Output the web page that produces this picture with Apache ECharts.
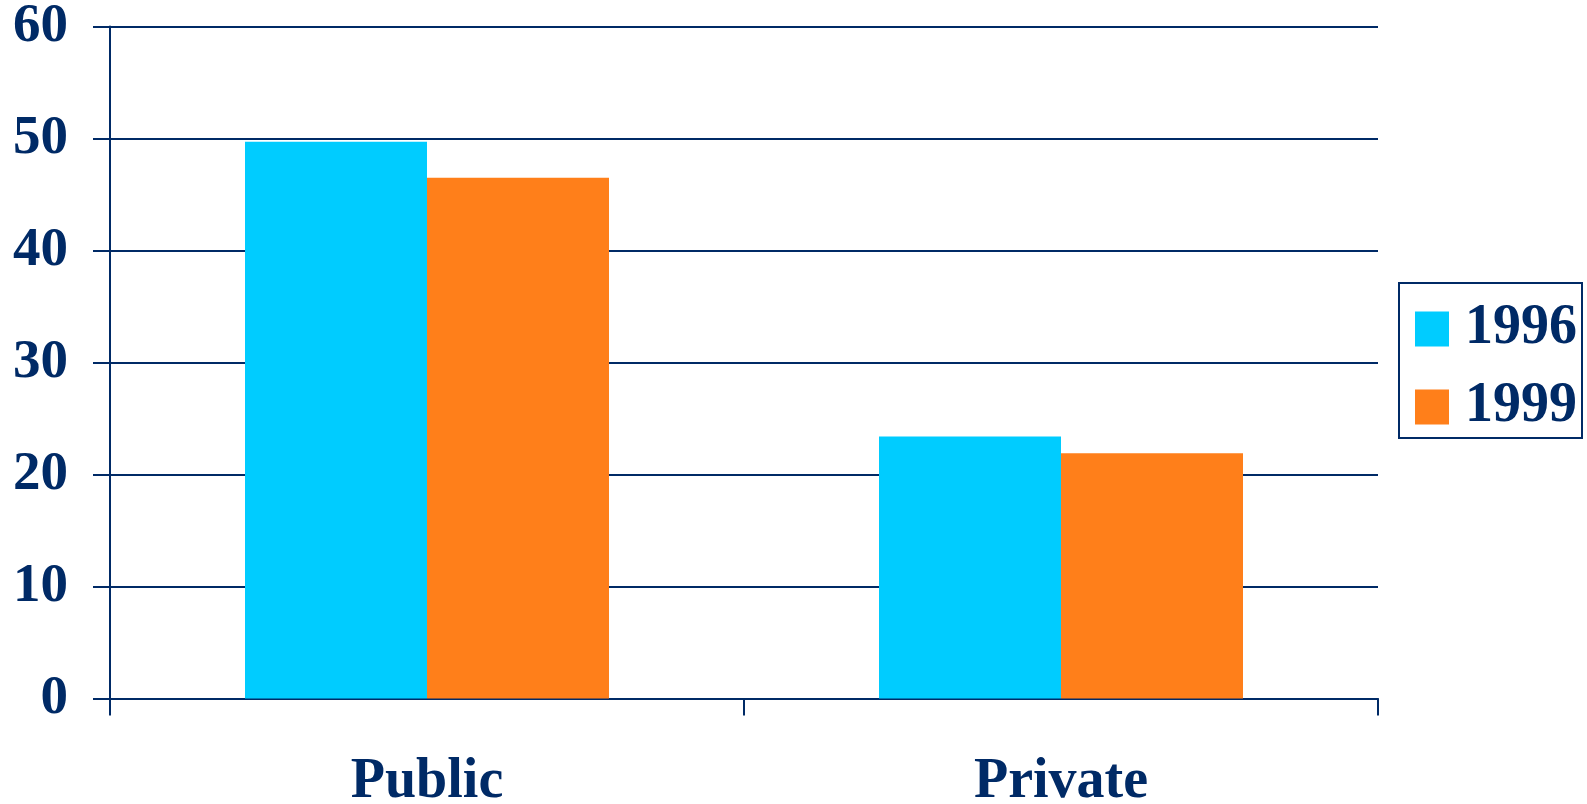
<!DOCTYPE html>
<html><head><meta charset="utf-8">
<script src="https://cdn.jsdelivr.net/npm/echarts@6/dist/echarts.min.js"></script>
<style>html,body{margin:0;padding:0;background:#fff}#c{width:1587px;height:804px}</style>
</head><body><div id="c"></div>
<script>
const categories = ['Public', 'Private'];
const seriesNames = ['1996', '1999'];
const values1996 = [49.7, 23.4];
const values1999 = [46.5, 21.9];
const yTicks = [0, 10, 20, 30, 40, 50, 60];

const navy = '#002a66';
const font = 'Liberation Serif';
const chart = echarts.init(document.getElementById('c'));
chart.setOption({
  animation: false,
  backgroundColor: '#fff',
  grid: { left: 110, top: 26.5, right: 209, bottom: 105.5, containLabel: false, outerBoundsMode: 'none' },
  legend: {
    orient: 'vertical', left: 1399, top: 283,
    data: seriesNames,
    itemWidth: 34, itemHeight: 35, itemGap: 22, itemStyle: {borderWidth: 0},
    padding: [18, 5, 3, 16],
    borderColor: navy, borderWidth: 2,
    textStyle: { color: navy, fontFamily: font, fontWeight: 'bold', fontSize: 56, padding: [0,0,0,11] },
    icon: 'rect'
  },
  xAxis: {
    type: 'category', data: categories,
    axisLine: { lineStyle: { color: navy, width: 2 } },
    axisTick: { show: true, length: 17, lineStyle: { color: navy, width: 2 } },
    axisLabel: { color: navy, fontFamily: font, fontWeight: 'bold', fontSize: 56, margin: 56 }
  },
  yAxis: {
    type: 'value', min: yTicks[0], max: yTicks[yTicks.length-1], interval: 10,
    axisLine: { show: true, lineStyle: { color: navy, width: 2 } },
    axisTick: { show: true, length: 17, lineStyle: { color: navy, width: 2 } },
    splitLine: { lineStyle: { color: navy, width: 2 } },
    axisLabel: { color: navy, fontFamily: font, fontWeight: 'bold', fontSize: 55, margin: 42 }
  },
  series: [
    { name: seriesNames[0], type: 'bar', data: values1996, barWidth: 182, barGap: '0%', itemStyle: { color: '#00ccff' } },
    { name: seriesNames[1], type: 'bar', data: values1999, barWidth: 182, barGap: '0%', itemStyle: { color: '#ff7f1a' } }
  ]
});
</script></body></html>
